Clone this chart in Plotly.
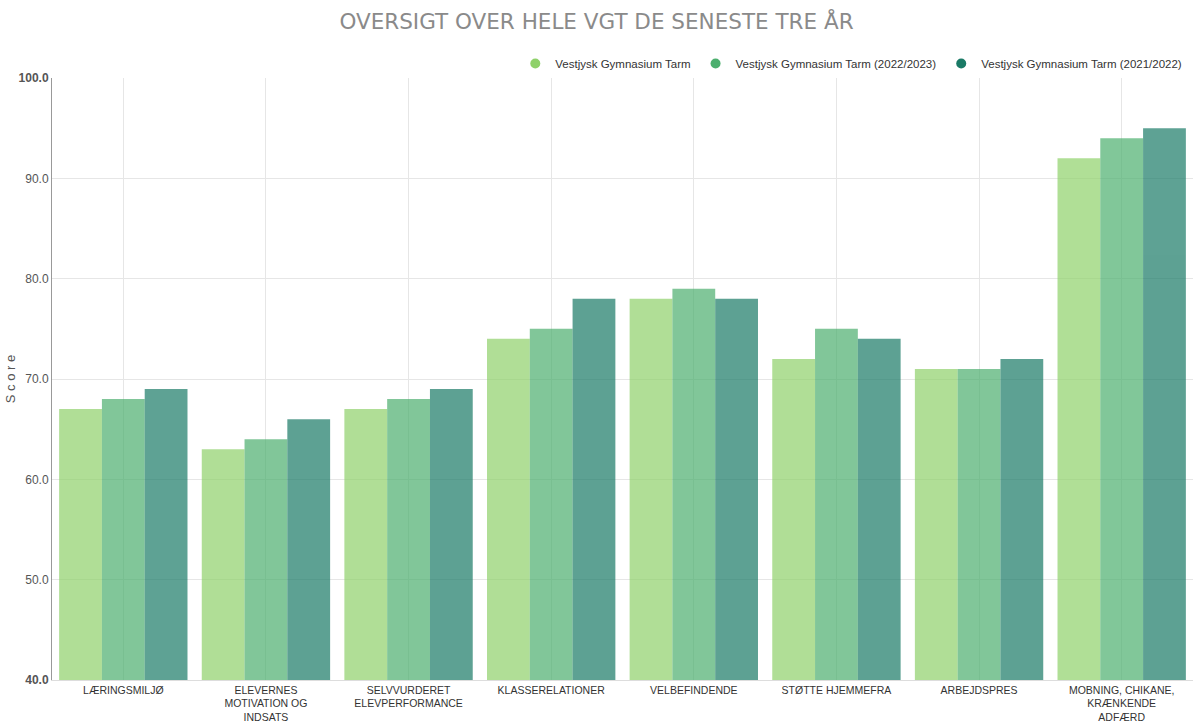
import plotly.graph_objects as go

categories = ["LÆRINGSMILJØ", "ELEVERNES<br>MOTIVATION OG<br>INDSATS", "SELVVURDERET<br>ELEVPERFORMANCE",
              "KLASSERELATIONER", "VELBEFINDENDE", "STØTTE HJEMMEFRA", "ARBEJDSPRES",
              "MOBNING, CHIKANE,<br>KRÆNKENDE<br>ADFÆRD"]
series_names = ["Vestjysk Gymnasium Tarm", "Vestjysk Gymnasium Tarm (2022/2023)",
                "Vestjysk Gymnasium Tarm (2021/2022)"]
values_current = [67, 63, 67, 74, 78, 72, 71, 92]
values_2223 = [68, 64, 68, 75, 79, 75, 71, 94]
values_2122 = [69, 66, 69, 78, 78, 74, 72, 95]
colors = ["#8fd16a", "#4caf6e", "#1a7a66"]
y_ticks = [40, 50, 60, 70, 80, 90, 100]
y_ticktext = ["<b>40.0</b>", "50.0", "60.0", "70.0", "80.0", "90.0", "<b>100.0</b>"]

fig = go.Figure()
for name, vals, col in zip(series_names, [values_current, values_2223, values_2122], colors):
    fig.add_trace(go.Bar(x=categories, y=vals, name=name, marker=dict(color=col, line=dict(width=0)),
                         opacity=0.7, showlegend=False))
for name, col in zip(series_names, colors):
    fig.add_trace(go.Scatter(x=[None], y=[None], mode="markers", name=name,
                             marker=dict(color=col, size=10, symbol="circle")))

fig.update_layout(
    width=1193, height=723,
    paper_bgcolor="white", plot_bgcolor="white",
    font=dict(family="Liberation Sans, Arial, sans-serif", size=12, color="#333"),
    title=dict(text="OVERSIGT OVER HELE VGT DE SENESTE TRE ÅR", x=0.5, xanchor="center",
               y=1 - 21 / 723, yanchor="middle",
               font=dict(family="DejaVu Sans, Verdana, sans-serif", size=21.5, color="#8a8a8a")),
    barmode="group", bargap=0.1, bargroupgap=0,
    margin=dict(l=52, r=0, t=78, b=43, autoexpand=False),
    legend=dict(orientation="h", x=0.995, xanchor="right", y=1.0, yanchor="bottom",
                font=dict(size=11.5, color="#333"), itemwidth=30, tracegroupgap=0),
    xaxis=dict(showgrid=True, gridcolor="#e6e6e6", ticks="", showline=True, linecolor="#ddd",
               tickfont=dict(size=10.5, color="#333"), automargin=False),
    yaxis=dict(range=[40, 100], tickvals=y_ticks, ticktext=y_ticktext, showgrid=True,
               gridcolor="#e6e6e6", showline=True, linecolor="#999", ticks="",
               tickfont=dict(size=12, color="#555"), automargin=False,
               title=dict(text="S c o r e", font=dict(size=13, color="#555"), standoff=0)),
)
fig.write_html("out.html", config={"displayModeBar": False},
               post_script="document.body.style.margin='0';document.body.style.overflow='hidden';")
